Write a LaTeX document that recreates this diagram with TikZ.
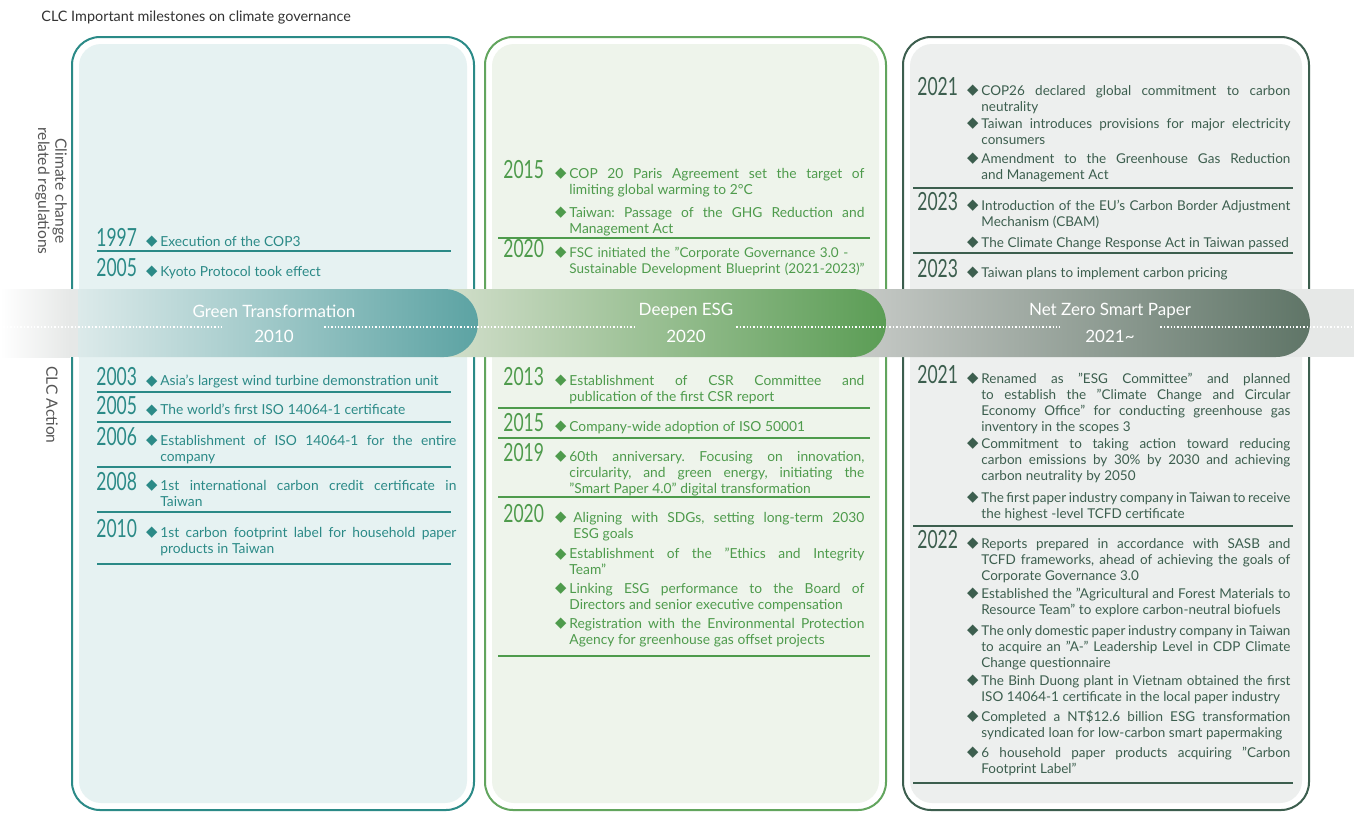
\documentclass[tikz,border=0pt]{standalone}
\usepackage{fontspec}
\setmainfont{Lato}[Ligatures=ResetAll]
\newfontfamily\yearfont[FakeStretch=0.7]{Lato}
\newfontfamily\dmfont{DejaVu Sans}
\usepackage{xcolor}
\usepackage{tikz}
\definecolor{clcteal}{HTML}{2B8A87}
\definecolor{tealpale}{HTML}{E6F2F2}
\definecolor{clcgreen}{HTML}{4E9B4C}
\definecolor{greenline}{HTML}{62A55E}
\definecolor{greenpale}{HTML}{EEF4EB}
\definecolor{clcslate}{HTML}{3C5E4E}
\definecolor{slatepale}{HTML}{EDEFEE}
\definecolor{stripgray}{HTML}{E6E8E7}
\definecolor{pillAl}{HTML}{DCEAEA}
\definecolor{pillAr}{HTML}{5CA3A3}
\definecolor{pillBl}{HTML}{D3DFCC}
\definecolor{pillBr}{HTML}{5B9D55}
\definecolor{pillCl}{HTML}{C8CBC8}
\definecolor{pillCr}{HTML}{5F7567}
\definecolor{labelgray}{HTML}{555555}
\newcommand{\dm}{\noindent\llap{\raisebox{0.4pt}{\dmfont\fontsize{7.4}{7.4}\selectfont ◆}\hspace{1.4pt}}}
\newcommand{\itemfont}[1]{\fontsize{#1}{8}\selectfont\frenchspacing
  \spaceskip=.27em plus .5em minus .1em\hyphenpenalty=10000\exhyphenpenalty=10000}

\begin{document}
\begin{tikzpicture}[x=0.5pt,y=-0.5pt,
  yr/.style={anchor=base west,inner sep=0,font=\yearfont\fontsize{12.5}{12.5}\selectfont},
  itm/.style={anchor=north west,inner sep=0,align=justify},
  yrA/.style={yr,text=clcteal},
  yrB/.style={yr,text=clcgreen},
  yrC/.style={yr,text=clcslate},
  txtA/.style={itm,text=clcteal,text width=148pt,font=\itemfont{6.9}},
  txtB/.style={itm,text=clcgreen,text width=147.5pt,font=\itemfont{6.9}},
  txtC/.style={itm,text=clcslate,text width=154.5pt,font=\itemfont{6.75}},
  ruleA/.style={draw=clcteal,line width=0.6pt},
  ruleB/.style={draw=clcgreen,line width=0.6pt},
  ruleC/.style={draw=clcslate,line width=0.6pt},
  box/.style={line width=1pt,rounded corners=14pt},
  inbox/.style={rounded corners=11pt},
  bandtxt/.style={text=white,inner sep=0,font=\fontsize{8.5}{8.5}\selectfont},
  bandyr/.style={bandtxt,minimum width=50pt},
  dots/.style={white,line width=0.9pt,dash pattern=on 0.7pt off 1pt},
  side/.style={rotate=-90,align=center,text=labelgray,inner sep=0,font=\fontsize{7.8}{8.6}\selectfont}
]
\useasboundingbox (0,0) rectangle (1354,825);
\fill[white] (0,0) rectangle (1354,825);

\node[anchor=base west,inner sep=0,text=black!80,font=\fontsize{7.2}{7.2}\selectfont] (title) at (41,21) {CLC Important milestones on climate governance};
\node[side] (lblreg) at (51,191) {Climate change\\related regulations};
\node[side] (lblact) at (52,405) {CLC Action};

% the three period boxes
\draw[box,draw=clcteal] (72,37) rectangle (474,810);
\fill[inbox,tealpale] (79,44) rectangle (467,803);
\draw[box,draw=greenline] (485,37) rectangle (886,810);
\fill[inbox,greenpale] (492,44) rectangle (879,803);
\draw[box,draw=clcslate] (903,37) rectangle (1309,810);
\fill[inbox,slatepale] (910,44) rectangle (1302,803);

% band
\shade[left color=white,right color=stripgray] (0,289) rectangle (70,357);
\fill[stripgray] (70,289) rectangle (1354,357);
\shade[left color=pillCl,right color=pillCr] (850,289) -- (1276,289) arc[start angle=-90,end angle=90,radius=34] -- (850,357) -- cycle;
\shade[left color=pillBl,right color=pillBr] (440,289) -- (852,289) arc[start angle=-90,end angle=90,radius=34] -- (440,357) -- cycle;
\shade[left color=pillAl,right color=pillAr] (78,289) -- (444,289) arc[start angle=-90,end angle=90,radius=34] -- (78,357) -- cycle;

\node[bandtxt] (bandA) at (274,311) {Green Transformation};
\node[bandyr] (bandAy) at (274,336) {2010};
\node[bandtxt] (bandB) at (686,311) {Deepen ESG};
\node[bandyr] (bandBy) at (686,336) {2020};
\node[bandtxt] (bandC) at (1110,311) {Net Zero Smart Paper};
\node[bandyr] (bandCy) at (1110,336) {2021\textasciitilde};
\coordinate (dotL) at (0,327);
\coordinate (dotR) at (1354,327);
\draw[dots] (dotL) -- (dotL -| bandAy.west);
\draw[dots] (bandAy.east |- dotL) -- (bandBy.west |- dotL);
\draw[dots] (bandBy.east |- dotL) -- (bandCy.west |- dotL);
\draw[dots] (bandCy.east |- dotL) -- (dotR);

% green transformation
\node[yrA] (reg1997) at (96,246) {1997};
\node[txtA] (reg1997a) at (160,236) {\dm Execution of the COP3};
\draw[ruleA] (97,251) -- (451,251);
\node[yrA] (reg2005) at (96,276) {2005};
\node[txtA] (reg2005a) at (160,266) {\dm Kyoto Protocol took effect};

\node[yrA] (act2003) at (96,385) {2003};
\node[txtA] (act2003a) at (160,375) {\dm Asia's largest wind turbine demonstration unit};
\draw[ruleA] (97,392) -- (451,392);
\node[yrA] (act2005) at (96,414) {2005};
\node[txtA] (act2005a) at (160,404) {\dm The world's first ISO 14064-1 certificate};
\draw[ruleA] (97,422) -- (451,422);
\node[yrA] (act2006) at (96,445) {2006};
\node[txtA] (act2006a) at (160,435) {\dm Establishment of ISO 14064-1 for the entire \linebreak company};
\draw[ruleA] (97,467) -- (451,467);
\node[yrA] (act2008) at (96,490) {2008};
\node[txtA] (act2008a) at (160,480) {\dm 1st international carbon credit certificate in \linebreak Taiwan};
\draw[ruleA] (97,512) -- (451,512);
\node[yrA] (act2010) at (96,537) {2010};
\node[txtA] (act2010a) at (160,527) {\dm 1st carbon footprint label for household paper \linebreak products in Taiwan};
\draw[ruleA] (97,564) -- (451,564);

% deepen ESG
\node[yrB] (reg2015) at (503,178) {2015};
\node[txtB] (reg2015a) at (569,168) {\dm COP 20 Paris Agreement set the target of \linebreak limiting global warming to 2°C};
\node[txtB] (reg2015b) at (569,207) {\dm Taiwan: Passage of the GHG Reduction and \linebreak Management Act};
\draw[ruleB] (498,238) -- (870,238);
\node[yrB] (reg2020) at (503,257) {2020};
\node[txtB,align=left,text width=154pt,font=\itemfont{6.75}] (reg2020a) at (569,247) {\dm FSC initiated the "Corporate Governance 3.0 -\\Sustainable Development Blueprint (2021-2023)"};

\node[yrB] (act2013) at (503,385) {2013};
\node[txtB] (act2013a) at (569,375) {\dm Establishment of CSR Committee and \linebreak publication of the first CSR report};
\draw[ruleB] (498,408) -- (870,408);
\node[yrB] (act2015) at (503,431) {2015};
\node[txtB] (act2015a) at (569,421) {\dm Company-wide adoption of ISO 50001};
\draw[ruleB] (498,438) -- (870,438);
\node[yrB] (act2019) at (503,461) {2019};
\node[txtB] (act2019a) at (569,451) {\dm 60th anniversary. Focusing on innovation, \linebreak circularity, and green energy, initiating the \linebreak "Smart Paper 4.0" digital transformation};
\draw[ruleB] (498,497) -- (870,497);
\node[yrB] (act2020) at (503,522) {2020};
\node[txtB] (act2020a) at (569,512) {\dm \hspace{2pt}Aligning with SDGs, setting long-term 2030 \linebreak \hspace*{2pt}ESG goals};
\node[txtB] (act2020b) at (569,548) {\dm Establishment of the "Ethics and Integrity \linebreak Team"};
\node[txtB] (act2020c) at (569,583) {\dm Linking ESG performance to the Board of \linebreak Directors and senior executive compensation};
\node[txtB] (act2020d) at (569,618) {\dm Registration with the Environmental Protection \linebreak Agency for greenhouse gas offset projects};
\draw[ruleB] (498,656) -- (870,656);

% net zero smart paper
\node[yrC] (reg2021) at (917,95) {2021};
\node[txtC] (reg2021a) at (981,85) {\dm COP26 declared global commitment to carbon \linebreak neutrality};
\node[txtC] (reg2021b) at (981,118) {\dm Taiwan introduces provisions for major electricity \linebreak consumers};
\node[txtC] (reg2021c) at (981,153) {\dm Amendment to the Greenhouse Gas Reduction \linebreak and Management Act};
\draw[ruleC] (913,188) -- (1293,188);
\node[yrC] (reg2023) at (917,210) {2023};
\node[txtC] (reg2023a) at (981,200) {\dm Introduction of the EU's Carbon Border Adjustment \linebreak Mechanism (CBAM)};
\node[txtC] (reg2023b) at (981,237) {\dm The Climate Change Response Act in Taiwan passed};
\draw[ruleC] (913,253) -- (1293,253);
\node[yrC] (reg2023p) at (917,277) {2023};
\node[txtC] (reg2023pa) at (981,267) {\dm Taiwan plans to implement carbon pricing};

\node[yrC] (act2021) at (917,383) {2021};
\node[txtC] (act2021a) at (981,373) {\dm Renamed as "ESG Committee" and planned \linebreak to establish the "Climate Change and Circular \linebreak Economy Office" for conducting greenhouse gas \linebreak inventory in the scopes 3};
\node[txtC] (act2021b) at (981,438) {\dm Commitment to taking action toward reducing \linebreak carbon emissions by 30\% by 2030 and achieving \linebreak carbon neutrality by 2050};
\node[txtC] (act2021c) at (981,492) {\dm The first paper industry company in Taiwan to receive \linebreak the highest -level TCFD certificate};
\draw[ruleC] (913,526) -- (1293,526);
\node[yrC] (act2022) at (917,548) {2022};
\node[txtC] (act2022a) at (981,538) {\dm Reports prepared in accordance with SASB and \linebreak TCFD frameworks, ahead of achieving the goals of \linebreak Corporate Governance 3.0};
\node[txtC] (act2022b) at (981,588) {\dm Established the "Agricultural and Forest Materials to \linebreak Resource Team" to explore carbon-neutral biofuels};
\node[txtC] (act2022c) at (981,625) {\dm The only domestic paper industry company in Taiwan \linebreak to acquire an "A-" Leadership Level in CDP Climate \linebreak Change questionnaire};
\node[txtC] (act2022d) at (981,675) {\dm The Binh Duong plant in Vietnam obtained the first \linebreak ISO 14064-1 certificate in the local paper industry};
\node[txtC] (act2022e) at (981,710) {\dm Completed a NT\$12.6 billion ESG transformation \linebreak syndicated loan for low-carbon smart papermaking};
\node[txtC] (act2022f) at (981,747) {\dm 6 household paper products acquiring "Carbon \linebreak Footprint Label"};
\draw[ruleC] (913,783) -- (1293,783);
\end{tikzpicture}
\end{document}
